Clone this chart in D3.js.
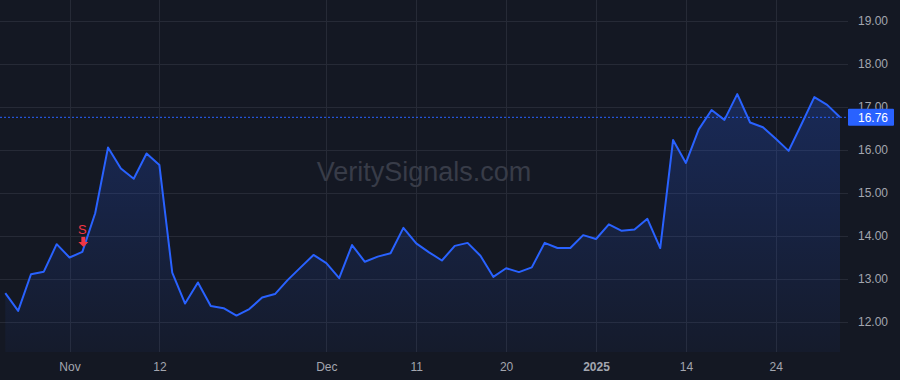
<!DOCTYPE html>
<html>
<head>
<meta charset="utf-8">
<script src="https://cdn.jsdelivr.net/npm/d3@7/dist/d3.min.js"></script>
<style>
  html, body { margin: 0; padding: 0; background: #141823; }
  svg { display: block; }
</style>
</head>
<body>
<svg id="chart" width="900" height="380"></svg>
<script>
const dates = [
  "2024-10-25","2024-10-28","2024-10-29","2024-10-30","2024-10-31",
  "2024-11-01","2024-11-04","2024-11-05","2024-11-06","2024-11-07","2024-11-08",
  "2024-11-11","2024-11-12","2024-11-13","2024-11-14","2024-11-15",
  "2024-11-18","2024-11-19","2024-11-20","2024-11-21","2024-11-22",
  "2024-11-25","2024-11-26","2024-11-27","2024-11-29",
  "2024-12-02","2024-12-03","2024-12-04","2024-12-05","2024-12-06",
  "2024-12-09","2024-12-10","2024-12-11","2024-12-12","2024-12-13",
  "2024-12-16","2024-12-17","2024-12-18","2024-12-19","2024-12-20",
  "2024-12-23","2024-12-24","2024-12-26","2024-12-27",
  "2024-12-30","2024-12-31","2025-01-02","2025-01-03",
  "2025-01-06","2025-01-07","2025-01-08","2025-01-10",
  "2025-01-13","2025-01-14","2025-01-15","2025-01-16","2025-01-17",
  "2025-01-21","2025-01-22","2025-01-23","2025-01-24",
  "2025-01-27","2025-01-28","2025-01-29","2025-01-30","2025-01-31"
];
const prices = [
  12.67, 12.26, 13.11, 13.17, 13.81,
  13.50, 13.63, 14.53, 16.06, 15.57, 15.33,
  15.92, 15.65, 13.15, 12.43, 12.92,
  12.37, 12.32, 12.15, 12.30, 12.57,
  12.65, 12.98, 13.27, 13.56,
  13.37, 13.02, 13.79, 13.40, 13.52,
  13.60, 14.19, 13.83, 13.62, 13.43,
  13.77, 13.84, 13.54, 13.05, 13.25,
  13.16, 13.27, 13.84, 13.72,
  13.72, 14.02, 13.93, 14.27,
  14.12, 14.15, 14.40, 13.72,
  16.23, 15.70, 16.48, 16.93, 16.70,
  17.30, 16.64, 16.53, 16.26,
  15.98, 16.60, 17.23, 17.05, 16.76
];
const xTickDates = ["2024-11-01","2024-11-12","2024-12-02","2024-12-11","2024-12-20","2025-01-02","2025-01-14","2025-01-24"];
const xTickLabels = ["Nov","12","Dec","11","20","2025","14","24"];
const xTickBold = [false,false,false,false,false,true,false,false];
const yTicks = [12, 13, 14, 15, 16, 17, 18, 19];
const signalDates = ["2024-11-04"];
const signalLabels = ["S"];
const lastPrice = 16.76;

const svg = d3.select("#chart");
const W = 900, H = 380;
const plotRight = 848, plotBottom = 352;

const x = d3.scalePoint().domain(dates).range([5.3, 840]);
const y = d3.scaleLinear().domain([12, 19]).range([322, 21]);

svg.append("rect").attr("width", W).attr("height", H).attr("fill", "#141823");

// grid
const grid = svg.append("g");
grid.selectAll("line.h").data(yTicks).enter().append("line")
  .attr("x1", 0).attr("x2", plotRight)
  .attr("y1", d => Math.round(y(d)) + 0.5).attr("y2", d => Math.round(y(d)) + 0.5)
  .attr("stroke", "#262a36").attr("stroke-width", 1);
grid.selectAll("line.v").data(xTickDates).enter().append("line")
  .attr("x1", d => Math.round(x(d)) + 0.5).attr("x2", d => Math.round(x(d)) + 0.5)
  .attr("y1", 0).attr("y2", plotBottom)
  .attr("stroke", "#262a36").attr("stroke-width", 1);

// watermark
svg.append("text").attr("x", 424).attr("y", 181).attr("text-anchor", "middle")
  .attr("font-family", "Liberation Sans, Arial, sans-serif").attr("font-size", 27)
  .attr("fill", "#383c48").text("VeritySignals.com");

// area gradient
const defs = svg.append("defs");
const grad = defs.append("linearGradient").attr("id", "areaGrad")
  .attr("gradientUnits", "userSpaceOnUse")
  .attr("x1", 0).attr("y1", y(17.3)).attr("x2", 0).attr("y2", plotBottom);
grad.append("stop").attr("offset", "0%").attr("stop-color", "#2962ff").attr("stop-opacity", 0.24);
grad.append("stop").attr("offset", "100%").attr("stop-color", "#2962ff").attr("stop-opacity", 0.04);

const data = dates.map((d, i) => ({ d, v: prices[i] }));

svg.append("path").datum(data)
  .attr("d", d3.area().x(p => x(p.d)).y0(plotBottom).y1(p => y(p.v)))
  .attr("fill", "url(#areaGrad)");

svg.append("path").datum(data)
  .attr("d", d3.line().x(p => x(p.d)).y(p => y(p.v)))
  .attr("fill", "none").attr("stroke", "#2962ff").attr("stroke-width", 2)
  .attr("stroke-linejoin", "round");

// last price dashed line
svg.append("line").attr("x1", 0).attr("x2", plotRight)
  .attr("y1", y(lastPrice)).attr("y2", y(lastPrice))
  .attr("stroke", "#2962ff").attr("stroke-width", 1).attr("stroke-dasharray", "2,2");

// signal markers
signalDates.forEach((sd, i) => {
  const v = prices[dates.indexOf(sd)];
  const cx = x(sd) + 1;
  const tipY = y(v) - 5;
  const g = svg.append("g").attr("fill", "#f23645");
  g.append("rect").attr("x", cx - 2).attr("y", tipY - 10).attr("width", 4).attr("height", 6);
  g.append("path").attr("d", `M${cx - 5},${tipY - 5} L${cx + 5},${tipY - 5} L${cx},${tipY} Z`);
  g.append("text").attr("x", cx - 1).attr("y", tipY - 13).attr("text-anchor", "middle")
    .attr("font-family", "Liberation Sans, Arial, sans-serif").attr("font-size", 13)
    .text(signalLabels[i]);
});

// right axis
const yAxis = d3.axisRight(y).tickValues(yTicks).tickFormat(d3.format(".2f")).tickSize(0).tickPadding(10);
const ya = svg.append("g").attr("transform", `translate(${plotRight},0)`).call(yAxis);
ya.select(".domain").remove();
ya.selectAll("text").attr("fill", "#a3a6af").attr("font-size", 12)
  .attr("font-family", "Liberation Sans, Arial, sans-serif");

// last price label
svg.append("rect").attr("x", plotRight).attr("y", y(lastPrice) - 8.5).attr("width", 46).attr("height", 17)
  .attr("rx", 1).attr("fill", "#2962ff");
svg.append("text").attr("x", plotRight + 10).attr("y", y(lastPrice)).attr("dy", "0.35em")
  .attr("font-family", "Liberation Sans, Arial, sans-serif").attr("font-size", 12)
  .attr("fill", "#ffffff").text(d3.format(".2f")(lastPrice));

// bottom axis
const xAxis = d3.axisBottom(x).tickValues(xTickDates)
  .tickFormat((d, i) => xTickLabels[i]).tickSize(0).tickPadding(10);
const xa = svg.append("g").attr("transform", `translate(0,${plotBottom})`).call(xAxis);
xa.select(".domain").remove();
xa.selectAll("text").attr("fill", "#a3a6af").attr("font-size", 12)
  .attr("font-family", "Liberation Sans, Arial, sans-serif")
  .attr("font-weight", (d, i) => xTickBold[i] ? "bold" : "normal");
</script>
</body>
</html>
